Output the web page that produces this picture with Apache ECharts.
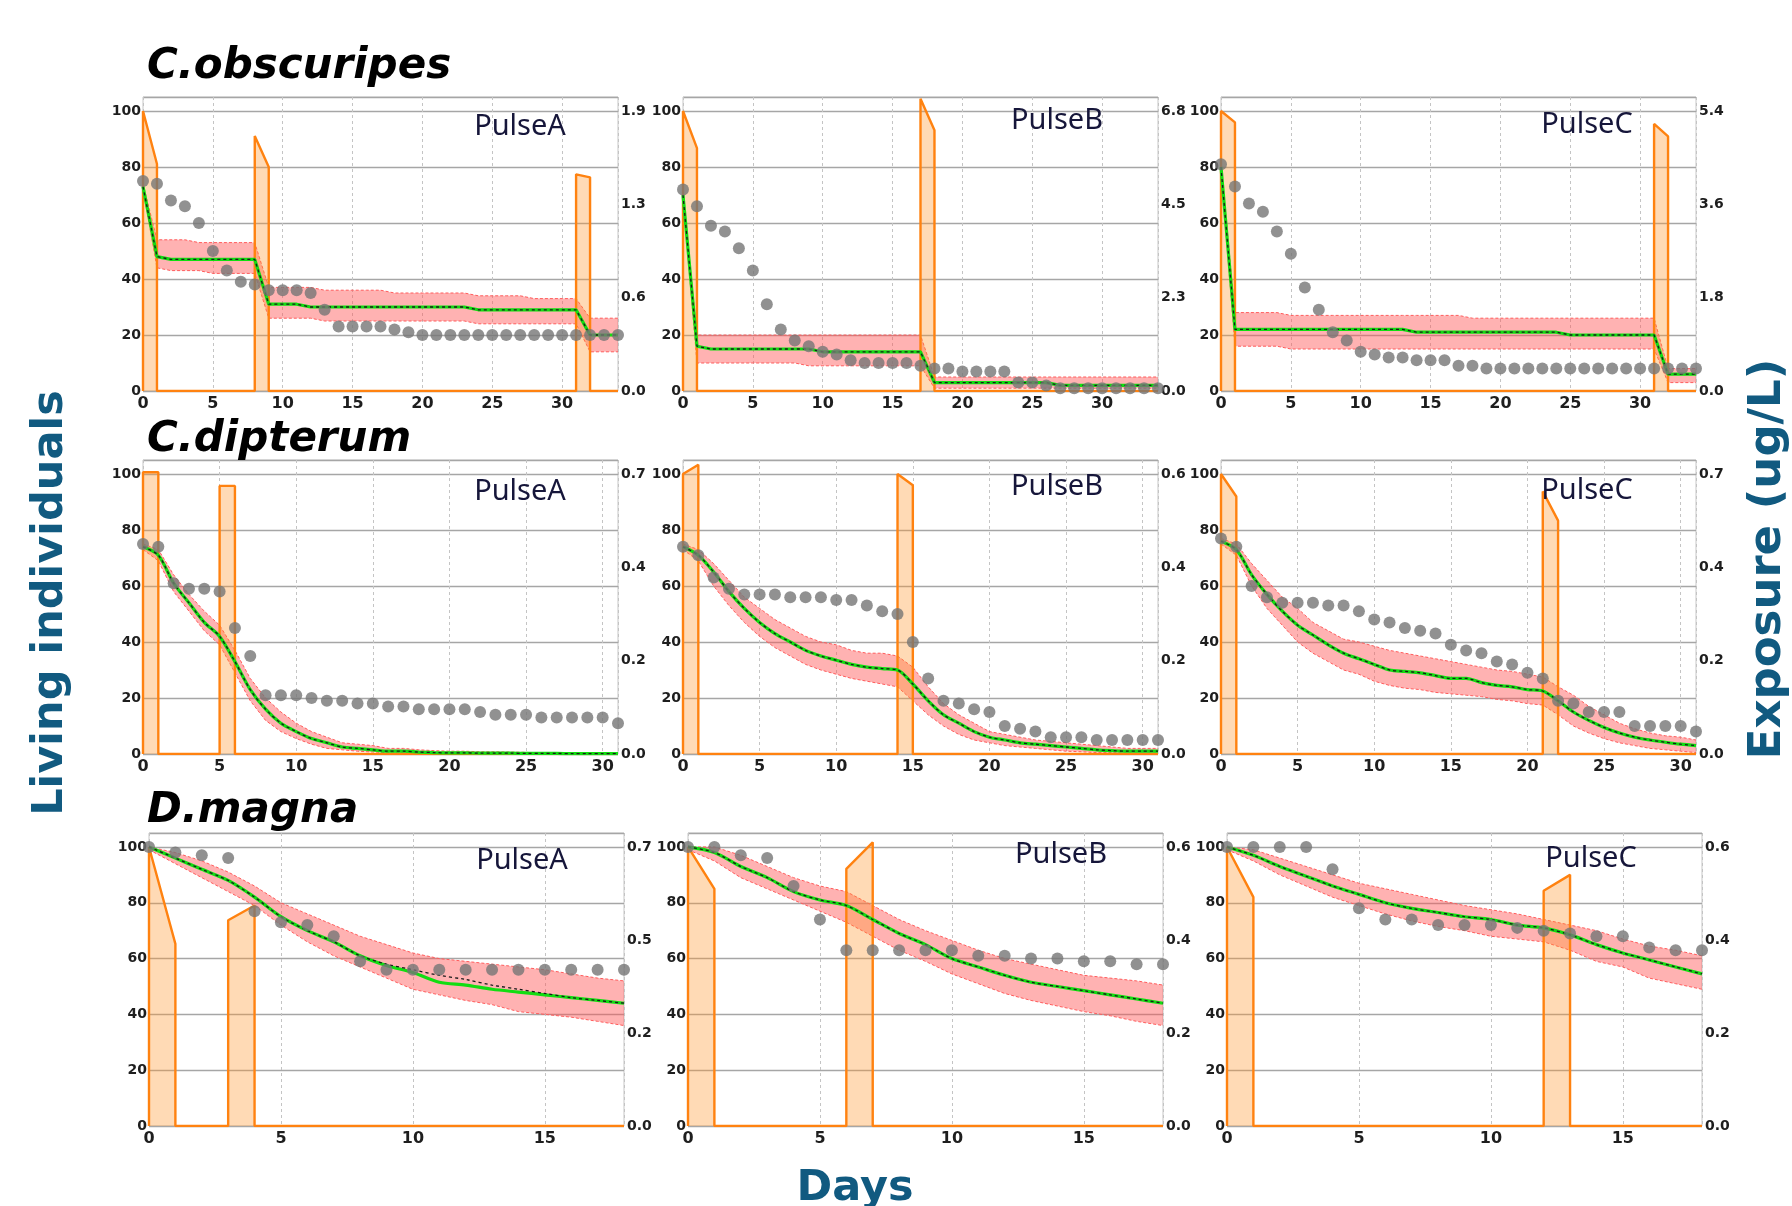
<!DOCTYPE html>
<html>
<head>
<meta charset="utf-8">
<title>Living individuals and exposure</title>
<script src="https://cdn.jsdelivr.net/npm/echarts@6/dist/echarts.min.js"></script>
<style>
  html, body { margin: 0; padding: 0; background: #fff; }
  #chart-root { width: 1792px; height: 1206px; }
</style>
</head>
<body>
<div id="chart-root"></div>
<script>
// days per row
const days34 = [0,1,2,3,4,5,6,7,8,9,10,11,12,13,14,15,16,17,18,19,20,21,22,23,24,25,26,27,28,29,30,31,32,33,34]
const days31 = [0,1,2,3,4,5,6,7,8,9,10,11,12,13,14,15,16,17,18,19,20,21,22,23,24,25,26,27,28,29,30,31]
const days18 = [0,1,2,3,4,5,6,7,8,9,10,11,12,13,14,15,16,17,18]

// C.obscuripes - PulseA
const obA_obs = [75,74,68,66,60,50,43,39,38,36,36,36,35,29,23,23,23,23,22,21,20,20,20,20,20,20,20,20,20,20,20,20,20,20,20]
const obA_fit = [73,48,47,47,47,47,47,47,47,31,31,31,30,30,30,30,30,30,30,30,30,30,30,30,29,29,29,29,29,29,29,29,20,20,20]
const obA_hi = [74,54,54,54,53,53,53,53,53,37,37,37,37,36,36,36,36,36,35,35,35,35,35,35,34,34,34,34,33,33,33,33,26,26,26]
const obA_lo = [72,44,43,43,43,42,42,42,42,26,26,26,26,25,25,25,25,25,25,25,25,25,25,25,24,24,24,24,24,24,24,24,14,14,14]
const obA_expo = [[0,0],[0,1.9],[1,1.54],[1,0],[8,0],[8,1.73],[9,1.52],[9,0],[31,0],[31,1.47],[32,1.45],[32,0],[34,0]]

// C.obscuripes - PulseB
const obB_obs = [72,66,59,57,51,43,31,22,18,16,14,13,11,10,10,10,10,9,8,8,7,7,7,7,3,3,2,1,1,1,1,1,1,1,1]
const obB_fit = [70,16,15,15,15,15,15,15,15,15,14,14,14,14,14,14,14,14,3,3,3,3,3,3,3,3,3,2,2,2,2,2,2,2,2]
const obB_hi = [71,20,20,20,20,20,20,20,20,20,20,20,20,20,20,20,20,20,5,5,5,5,5,5,5,5,5,5,5,5,5,5,5,5,5]
const obB_lo = [69,10,10,10,10,10,10,10,10,9,9,9,9,9,9,9,9,9,1,1,1,1,1,1,1,1,1,1,1,1,1,1,1,1,1]
const obB_expo = [[0,0],[0,6.8],[1,5.9],[1,0],[17,0],[17,7.1],[18,6.33],[18,0],[34,0]]

// C.obscuripes - PulseC
const obC_obs = [81,73,67,64,57,49,37,29,21,18,14,13,12,12,11,11,11,9,9,8,8,8,8,8,8,8,8,8,8,8,8,8,8,8,8]
const obC_fit = [80,22,22,22,22,22,22,22,22,22,22,22,22,22,21,21,21,21,21,21,21,21,21,21,21,20,20,20,20,20,20,20,6,6,6]
const obC_hi = [81,28,28,28,28,27,27,27,27,27,27,27,27,27,27,27,27,27,26,26,26,26,26,26,26,26,26,26,26,26,26,26,8,8,8]
const obC_lo = [79,16,16,16,16,15,15,15,15,15,15,15,15,15,15,15,15,15,15,15,15,15,15,15,15,15,15,15,15,15,15,15,3,3,3]
const obC_expo = [[0,0],[0,5.4],[1,5.18],[1,0],[31,0],[31,5.15],[32,4.91],[32,0],[34,0]]

// C.dipterum - PulseA
const diA_obs = [75,74,61,59,59,58,45,35,21,21,21,20,19,19,18,18,17,17,16,16,16,16,15,14,14,14,13,13,13,13,13,11]
const diA_fit = [74,71,61,54,47,42,33,23,16,11,8,5.5,4,2.5,2,1.5,1,1,0.7,0.5,0.4,0.4,0.3,0.3,0.3,0.2,0.2,0.2,0.1,0.1,0.1,0.1]
const diA_hi = [75,73,64,57,51,46,37,27,20,15,11,8,6,4,3.5,3,2,2,1.5,1.2,1,1,0.8,0.8,0.7,0.6,0.3,0.3,0.2,0.2,0.2,0.2]
const diA_lo = [73,69,58,51,44,39,29,19,12,8,5.5,3.5,2,1.5,1,0.7,0.5,0.4,0.3,0.3,0.2,0.2,0.1,0.1,0.1,0.1,0,0,0,0,0,0]
const diA_expo = [[0,0],[0,0.664],[1,0.664],[1,0],[5,0],[5,0.632],[6,0.632],[6,0],[31,0]]

// C.dipterum - PulseB
const diB_obs = [74,71,63,59,57,57,57,56,56,56,55,55,53,51,50,40,27,19,18,16,15,10,9,8,6,6,6,5,5,5,5,5]
const diB_fit = [74,71,65,58,52,47,43,40,37,35,33.5,32,31,30.5,30,25,19,14,11,8,6,5,4,3.5,3,2.5,2,1.5,1.2,1,1,1]
const diB_hi = [75,73,68,62,56,52,48,45,42,40,39,37,36,36,35,31,24,18,14,11,8,7,6,5,4.5,4,3.5,3,2.5,2,2,2]
const diB_lo = [73,69,60,53,47,42,38,35,32,30,28.5,27,26,25,24,19,14,10,7,5,4,3,2.5,2,1.5,1,0.8,0.5,0.5,0.3,0.3,0.3]
const diB_expo = [[0,0],[0,0.6],[1,0.62],[1,0],[14,0],[14,0.6],[15,0.576],[15,0],[31,0]]

// C.dipterum - PulseC
const diC_obs = [77,74,60,56,54,54,54,53,53,51,48,47,45,44,43,39,37,36,33,32,29,27,19,18,15,15,15,10,10,10,10,8]
const diC_fit = [76,73,64,57,51,46,42.5,39,36,34,32,30,29.5,29,28,27,27,25.5,24.5,24,23,22.5,19,15,12,9.5,7.5,6,5,4.2,3.5,3]
const diC_hi = [77,75,68,62,56,52,47,44,41,40,38.5,37,36,35,34,33,32,31,30,29.5,28.5,27.5,24,21,17,14,11,9,7.5,6.5,6,5]
const diC_lo = [75,71,60,52,46,40,36,33,30,28.5,26,24.5,23.5,23,22,21.5,21,20.5,19.5,19,18,17.5,14,10,7.5,5.5,4,3,2,1.5,1,0.5]
const diC_expo = [[0,0],[0,0.66],[1,0.607],[1,0],[21,0],[21,0.619],[22,0.55],[22,0],[31,0]]

// D.magna - PulseA
const dmA_obs = [100,98,97,96,77,73,72,68,59,56,56,56,56,56,56,56,56,56,56]
const dmA_fit = [100,96,92,88,82,75,70,66,61,57.5,55,51.5,50.5,49,48,47,46,45,44]
const dmA_med = [100,96,92,88,82,75,70,66,61,58,56,54,52.5,50.5,49,47.5,46,45,44]
const dmA_hi = [100,98,95,91,86,80,76,72,68,65,62,60,59,58,57,56,54.5,53,52]
const dmA_lo = [99,94,89,84,79,72,66,61,57,53,49,47,45,43.5,41,40,39,37.5,36]
const dmA_expo = [[0,0],[0,0.7],[1,0.457],[1,0],[3,0],[3,0.516],[4,0.553],[4,0],[18,0]]

// D.magna - PulseB
const dmB_obs = [100,100,97,96,86,74,63,63,63,63,63,61,61,60,60,59,59,58,58]
const dmB_fit = [100,98,93,89,84,81,79,74,69,65,60,57,54,51.5,50,48.5,47,45.5,44]
const dmB_hi = [100,100,97,93,89,86,84,79,74,70,66.5,63,60,58,56,54,53,52,50.5]
const dmB_lo = [99,95,89,85,81,77,73,68,63,59,54.5,51,47.5,45,43,41,39.5,37.5,36]
const dmB_expo = [[0,0],[0,0.6],[1,0.51],[1,0],[6,0],[6,0.553],[7,0.61],[7,0],[18,0]]

// D.magna - PulseC
const dmC_obs = [100,100,100,100,92,78,74,74,72,72,72,71,70,69,68,68,64,63,63]
const dmC_fit = [100,97,93,89.5,86,83,80,78,76.5,75,74,72,71,68.5,65,62,59.5,57,54.5]
const dmC_hi = [100,99,96,93,90,87,85,83,81,79,77.5,76,74,72,70,67,64.5,63,61]
const dmC_lo = [99,95,90,86,82,79,76,73.5,71.5,70,68,67,66,63,59,57,53,51,49]
const dmC_expo = [[0,0],[0,0.6],[1,0.492],[1,0],[12,0],[12,0.506],[13,0.54],[13,0],[18,0]]

// right axis top value (100 line) per panel
const expoMax = [1.9, 6.8, 5.4, 0.66, 0.6, 0.66, 0.7, 0.6, 0.6]
const pulseNames = ['PulseA', 'PulseB', 'PulseC']
const speciesNames = ['C.obscuripes', 'C.dipterum', 'D.magna']

const panels = [
  {days: days34, obs: obA_obs, fit: obA_fit, hi: obA_hi, lo: obA_lo, expo: obA_expo, xMax: 34, smooth: false},
  {days: days34, obs: obB_obs, fit: obB_fit, hi: obB_hi, lo: obB_lo, expo: obB_expo, xMax: 34, smooth: false},
  {days: days34, obs: obC_obs, fit: obC_fit, hi: obC_hi, lo: obC_lo, expo: obC_expo, xMax: 34, smooth: false},
  {days: days31, obs: diA_obs, fit: diA_fit, hi: diA_hi, lo: diA_lo, expo: diA_expo, xMax: 31, smooth: 0.3},
  {days: days31, obs: diB_obs, fit: diB_fit, hi: diB_hi, lo: diB_lo, expo: diB_expo, xMax: 31, smooth: 0.3},
  {days: days31, obs: diC_obs, fit: diC_fit, hi: diC_hi, lo: diC_lo, expo: diC_expo, xMax: 31, smooth: 0.3},
  {days: days18, obs: dmA_obs, fit: dmA_fit, med: dmA_med, hi: dmA_hi, lo: dmA_lo, expo: dmA_expo, xMax: 18, smooth: 0.3},
  {days: days18, obs: dmB_obs, fit: dmB_fit, hi: dmB_hi, lo: dmB_lo, expo: dmB_expo, xMax: 18, smooth: 0.3},
  {days: days18, obs: dmC_obs, fit: dmC_fit, hi: dmC_hi, lo: dmC_lo, expo: dmC_expo, xMax: 18, smooth: 0.3}
]

// layout (px)
const colLeft = [[143, 683, 1221], [143, 683, 1221], [149, 688, 1227]]
const rowTop = [97, 460, 833]
const rowHeight = [294, 294, 293]
const plotWidth = 475
const pulseLabelPos = [
  [520, 127], [1057, 121], [1587, 125],
  [520, 492], [1057, 487], [1587, 491],
  [522, 861], [1061, 855], [1591, 859]
]
const titleY = [67, 440, 811]

const chart = echarts.init(document.getElementById('chart-root'))

const tickFont = {fontFamily: 'DejaVu Sans', fontWeight: 'bold', fontSize: 14, color: '#1e1e1e'}
const grids = []
const xAxes = []
const yAxes = []
const series = []
const graphics = []

// band between lo and hi, drawn through the axes of the panel
function bandRenderer (p) {
  return function (params, api) {
    let up = p.days.map((d, k) => api.coord([d, p.hi[k]]))
    let dn = p.days.map((d, k) => api.coord([d, p.lo[k]]))
    let edge = {stroke: '#ff5c5c', lineWidth: 1, lineDash: [3, 2], fill: null}
    return {
      type: 'group',
      children: [
        {type: 'polygon', shape: {points: up.concat(dn.slice().reverse())}, style: {fill: 'rgba(255, 85, 85, 0.45)'}},
        {type: 'polyline', shape: {points: up}, style: edge},
        {type: 'polyline', shape: {points: dn}, style: edge}
      ]
    }
  }
}

panels.forEach((p, i) => {
  let row = Math.floor(i / 3)
  let col = i % 3
  grids.push({
    left: colLeft[row][col],
    top: rowTop[row],
    width: plotWidth,
    height: rowHeight[row],
    show: true,
    borderColor: '#c6c6c6',
    borderWidth: 1,
    backgroundColor: '#fff'
  })
  xAxes.push({
    type: 'value', gridIndex: i, min: 0, max: p.xMax, interval: 5,
    axisLine: {show: false}, axisTick: {show: false},
    axisLabel: Object.assign({}, tickFont, {fontSize: 16, margin: 5, showMaxLabel: false}),
    splitLine: {show: true, lineStyle: {color: '#c4c4c4', width: 1, type: [3, 3]}}
  })
  yAxes.push({
    type: 'value', gridIndex: i, position: 'left', min: 0, max: 105, interval: 20,
    axisLine: {show: false}, axisTick: {show: false},
    axisLabel: Object.assign({margin: 2, showMaxLabel: false}, tickFont),
    splitLine: {show: true, lineStyle: {color: '#a6a6a6', width: 1.3}}
  })
  let m = expoMax[i]
  yAxes.push({
    type: 'value', gridIndex: i, position: 'right', min: 0, max: m * 1.05, interval: m / 3,
    axisLine: {show: false}, axisTick: {show: false},
    axisLabel: Object.assign({margin: 3, showMaxLabel: false, formatter: v => v.toFixed(1)}, tickFont),
    splitLine: {show: false}
  })

  let pair = arr => p.days.map((d, k) => [d, arr[k]])

  // uncertainty band
  series.push({
    type: 'custom', xAxisIndex: i, yAxisIndex: 2 * i,
    data: [[0, 0]], renderItem: bandRenderer(p), clip: true, silent: true, z: 1
  })
  // exposure pulses
  series.push({
    type: 'line', xAxisIndex: i, yAxisIndex: 2 * i + 1,
    data: p.expo, symbol: 'none', silent: true,
    lineStyle: {color: '#ff8210', width: 2.4},
    areaStyle: {color: 'rgba(255, 150, 45, 0.5)'}, z: 2
  })
  // model fit
  series.push({
    type: 'line', xAxisIndex: i, yAxisIndex: 2 * i,
    data: pair(p.fit), symbol: 'none', smooth: p.smooth, silent: true,
    lineStyle: {color: '#12dd12', width: 3.2}, z: 3
  })
  series.push({
    type: 'line', xAxisIndex: i, yAxisIndex: 2 * i,
    data: pair(p.med || p.fit), symbol: 'none', smooth: p.smooth, silent: true,
    lineStyle: {color: '#1a1a1a', width: 1.3, type: [3, 3]}, z: 4
  })
  // observed
  series.push({
    type: 'scatter', xAxisIndex: i, yAxisIndex: 2 * i,
    data: pair(p.obs), symbolSize: 12, silent: true,
    itemStyle: {color: '#767676'}, z: 5
  })

  graphics.push({
    type: 'text', x: pulseLabelPos[i][0], y: pulseLabelPos[i][1], z: 10,
    style: {
      text: pulseNames[col], font: '29px "Noto Sans"', fill: '#16163a',
      textAlign: 'center', textVerticalAlign: 'middle', align: 'center', verticalAlign: 'middle'
    }
  })
})

speciesNames.forEach((name, r) => {
  graphics.push({
    type: 'text', x: 147, y: titleY[r], z: 10,
    style: {
      text: name, font: 'italic bold 42px "DejaVu Sans"', fill: '#000',
      textAlign: 'left', textVerticalAlign: 'middle', align: 'left', verticalAlign: 'middle'
    }
  })
})

let axisTitleColor = '#115a80'
graphics.push({
  type: 'text', x: 51, y: 603, rotation: Math.PI / 2, z: 10,
  style: {text: 'Living individuals', font: 'bold 43px "DejaVu Sans"', fill: axisTitleColor,
    textAlign: 'center', textVerticalAlign: 'middle', align: 'center', verticalAlign: 'middle'}
})
graphics.push({
  type: 'text', x: 855, y: 1189, z: 10,
  style: {text: 'Days', font: 'bold 43px "DejaVu Sans"', fill: axisTitleColor,
    textAlign: 'center', textVerticalAlign: 'middle', align: 'center', verticalAlign: 'middle'}
})
graphics.push({
  type: 'text', x: 1768, y: 559, rotation: Math.PI / 2, z: 10,
  style: {text: 'Exposure (ug/L)', font: 'bold 45px "DejaVu Sans"', fill: axisTitleColor,
    textAlign: 'center', textVerticalAlign: 'middle', align: 'center', verticalAlign: 'middle'}
})

chart.setOption({
  animation: false,
  backgroundColor: '#fff',
  grid: grids,
  xAxis: xAxes,
  yAxis: yAxes,
  series: series,
  graphic: graphics
})
</script>
</body>
</html>
